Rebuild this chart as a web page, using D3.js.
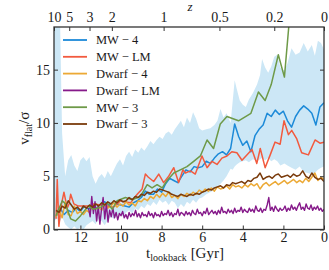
<!DOCTYPE html>
<html><head><meta charset="utf-8">
<script src="https://cdn.jsdelivr.net/npm/d3@7"></script>
<style>
body{margin:0;background:#fff}
svg{display:block}
text{font-family:"Liberation Serif","DejaVu Serif",serif;fill:#1a1a1a}
</style>
</head><body><svg id="c" width="329" height="270"></svg>
<script>
// ---------- data ----------
const xTicks = [12, 10, 8, 6, 4, 2, 0];
const yTicks = [0, 5, 10, 15];
const zTickLabels = ["10", "5", "3", "2", "1", "0.5", "0.2", "0"];
const zTickLookback = [13.3, 12.55, 11.55, 10.45, 7.9, 5.15, 2.45, 0];

const seriesNames = ["MW \u2212 4", "MW \u2212 LM", "Dwarf \u2212 4", "Dwarf \u2212 LM", "MW \u2212 3", "Dwarf \u2212 3"];
const seriesColors = ["#1c8ad8", "#f25a3e", "#eca935", "#861a8a", "#6e9a48", "#7a3b0c"];

// MW-4
const mw4T = [13.2,13.0,12.8,12.6,12.4,12.2,12.0,11.8,11.6,11.4,11.2,11.0,10.8,10.6,10.4,10.2,10.0,9.8,9.6,9.4,9.2,9.0,8.8,8.6,8.4,8.2,8.0,7.8,7.6,7.4,7.2,7.0,6.8,6.6,6.4,6.2,6.0,5.8,5.6,5.4,5.2,5.0,4.8,4.6,4.4,4.2,4.0,3.8,3.6,3.4,3.2,3.0,2.8,2.6,2.4,2.2,2.0,1.8,1.6,1.4,1.2,1.0,0.8,0.6,0.4,0.2,0.0];
const mw4V = [1.2,2.0,1.4,1.8,1.6,2.0,1.7,2.2,1.9,2.3,2.0,2.4,2.6,2.3,2.5,2.4,2.3,2.2,2.1,2.5,2.7,3.0,3.6,3.3,3.3,3.8,3.5,4.3,4.8,4.6,4.4,5.0,5.6,5.4,5.9,5.8,5.9,6.4,6.2,6.7,7.1,7.3,7.0,7.6,9.9,8.7,7.9,8.3,7.3,8.8,9.4,9.8,10.9,10.6,11.2,10.8,11.1,10.2,9.6,10.6,11.2,11.6,11.3,10.9,9.8,11.5,11.9];

// MW-LM
const mwlmT = [13.2,13.14,13.06,12.95,12.81,12.65,12.56,12.48,12.32,12.1,11.8,11.5,11.34,11.0,10.68,10.37,10.02,9.86,9.53,9.2,8.96,8.8,8.65,8.39,8.14,7.9,7.65,7.4,7.16,6.95,6.83,6.58,6.34,6.01,5.76,5.52,5.27,5.03,4.78,4.54,4.29,4.04,3.8,3.55,3.31,3.14,2.9,2.65,2.41,2.16,1.97,1.75,1.59,1.34,1.1,0.77,0.44,0.2,0.0];
const mwlmV = [1.0,4.7,0.3,2.2,3.5,2.0,2.4,3.3,2.4,2.2,2.2,2.2,2.4,2.3,2.2,2.1,2.7,2.6,2.5,3.3,3.8,5.2,4.9,4.5,5.2,4.4,5.0,5.8,4.4,5.6,5.3,5.5,5.2,6.9,5.8,6.4,6.1,6.7,6.9,7.3,7.2,6.5,7.0,7.5,6.2,7.6,5.8,7.0,8.2,8.0,10.2,8.9,9.3,8.5,7.2,7.0,8.4,8.1,8.2];

// MW-3
const mw3T = [13.2,13.14,12.89,12.73,12.48,12.24,11.99,11.74,11.6,11.35,11.0,10.68,10.43,10.19,9.78,9.43,9.04,8.71,8.47,8.22,7.97,7.73,7.4,7.08,6.75,6.42,6.09,5.76,5.44,5.11,4.78,4.21,3.6,3.23,2.9,2.6,2.25,1.95,1.6,1.2,0.8,0.4,0.0];
const mw3V = [1.3,1.6,2.7,2.4,1.0,0.8,1.3,1.9,2.2,1.9,2.1,2.5,1.9,2.7,3.0,2.8,3.1,4.2,3.9,4.2,3.9,4.6,5.3,5.6,5.9,6.4,6.9,8.4,7.6,9.9,10.6,10.2,10.9,12.9,12.1,13.6,16.4,14.3,22,25,26,27,28];

// Dwarf-4 and Dwarf-3: sampled every 0.15 Gyr from 13.2 Gyr to 0
const dwarfStart = 13.2, dwarfEnd = 0;
const dwarf4V = [1.2,1.9,1.1,2.6,1.4,1.3,2.2,1.5,1.7,1.4,
  1.8,1.6,2.3,1.9,2.1,1.8,2.4,2.0,2.2,2.5,
  2.1,2.4,2.2,2.6,2.3,2.5,2.2,2.7,2.6,2.9,
  2.7,3.1,2.9,3.3,3.0,3.4,3.1,3.5,3.0,3.2,
  2.9,3.3,3.1,3.4,3.2,3.5,3.3,3.7,3.5,3.8,
  3.6,3.9,3.6,4.0,3.8,3.9,4.1,3.8,4.2,4.0,
  4.1,3.9,4.2,4.0,4.3,4.1,4.3,3.8,4.2,4.4,
  4.1,4.3,4.5,4.2,4.4,4.6,4.3,4.5,4.7,4.4,
  4.6,4.4,4.8,4.5,4.9,5.3,4.6,4.9,4.7];
const dwarf3V = [1.8,1.6,2.2,2.0,2.7,2.3,1.9,2.1,1.8,2.2,
  2.0,2.3,2.1,2.4,2.2,2.5,2.3,2.6,2.4,2.7,
  2.5,2.8,2.6,2.7,3.0,2.8,3.1,3.0,3.3,3.2,
  3.5,3.4,3.6,3.5,3.8,3.7,3.6,3.5,3.3,3.2,
  3.1,3.3,3.2,3.1,3.3,3.2,3.4,3.3,3.5,3.6,
  3.8,3.7,3.9,4.0,4.1,3.9,4.2,4.1,4.4,4.3,
  4.4,4.5,4.3,4.6,4.5,4.8,4.9,5.3,4.7,4.9,
  5.0,4.8,5.1,5.2,4.9,5.0,5.1,4.9,5.2,5.0,
  5.1,5.5,5.0,4.8,5.3,4.9,4.7,4.8,4.5];

// Dwarf-LM: sampled from 11.6 Gyr to 0
const dwarfLMStart = 11.6, dwarfLMEnd = 0;
const dwarfLMV = [2.0,1.2,3.1,1.5,2.6,0.8,2.2,0.5,1.9,3.0,
  1.0,2.4,0.7,1.8,1.2,2.0,1.1,1.6,0.9,1.5,
  1.3,1.7,1.1,1.4,1.0,1.6,1.2,1.5,1.3,1.8,
  1.2,1.5,1.1,1.6,1.3,1.4,1.2,1.7,1.3,1.5,
  1.1,1.6,1.3,1.4,1.2,1.7,1.3,1.5,1.4,1.8,
  1.3,1.6,1.2,1.5,1.4,1.9,1.3,1.6,1.5,1.3,
  1.7,1.4,1.6,1.3,1.8,1.5,1.4,1.9,1.5,1.6,
  1.3,1.7,1.5,2.0,1.4,1.6,1.8,1.5,1.7,1.4,
  1.8,1.5,2.1,1.6,1.7,1.5,1.9,1.6,1.8,1.5,
  2.0,1.6,1.8,1.7,2.1,1.6,1.9,1.7,1.6,2.0,
  1.7,1.9,1.6,2.2,1.8,1.7,2.0,1.6,1.9,1.8,
  2.3,3.0,1.8,2.1,1.7,2.2,1.9,1.7,2.0,1.8,
  1.9,2.2,1.7,2.0,1.8,2.3,1.9,2.1,1.8,2.2,
  2.5,1.9,2.1,1.8,2.4,2.0,1.9,2.3,1.8,2.1,
  1.9,2.2,1.8,2.0,1.7,1.9];

// shaded band
const bandT  = [13.3,13.15,13.0,12.9,12.75,12.6,12.45,12.3,12.15,12.0,11.85,11.7,11.55,11.4,11.25,11.1,10.95,10.8,10.65,10.5,10.35,10.2,10.05,9.9,9.75,9.6,9.45,9.3,9.15,9.0,8.85,8.7,8.55,8.4,8.25,8.1,7.95,7.8,7.65,7.5,7.35,7.2,7.05,6.9,6.75,6.6,6.45,6.3,6.15,6.0,5.8,5.6,5.4,5.25,5.1,4.95,4.8,4.6,4.5,4.4,4.3,4.15,4.0,3.85,3.7,3.5,3.3,3.15,3.05,2.9,2.75,2.6,2.45,2.3,2.15,1.95,1.8,1.6,1.4,1.2,1.0,0.8,0.6,0.45,0.3,0.15,0.0];
const bandLo = [0.8,1.0,0.8,1.2,0.5,0.2,0.0,0.3,0.0,0.2,0.0,0.4,0.6,0.8,0.5,1.0,0.8,0.4,0.9,1.2,1.0,1.3,1.5,1.2,1.6,1.8,1.5,2.0,1.8,2.2,2.0,2.4,2.2,2.6,2.3,2.8,2.5,2.7,2.3,2.7,2.5,2.0,2.4,2.1,2.6,2.4,2.8,2.5,2.9,3.0,3.3,3.5,3.7,4.0,4.3,4.6,5.0,5.7,5.6,5.9,6.1,6.3,6.4,6.5,6.3,6.6,6.4,6.6,6.7,6.5,6.7,6.4,6.6,6.4,6.0,6.2,6.0,5.8,5.6,5.9,5.4,5.3,5.2,5.3,5.6,5.8,5.9];
const bandHi = [19.5,19.5,19.5,9.0,5.0,6.5,7.0,6.0,5.5,6.5,6.8,6.4,6.8,5.0,4.3,4.9,5.2,4.8,5.5,5.0,5.6,6.2,6.6,6.0,6.9,7.3,6.8,7.5,7.2,7.7,7.4,7.8,8.3,8.0,8.4,8.7,8.5,9.0,9.2,8.9,9.4,9.8,10.2,9.6,10.5,10.0,11.0,10.4,9.5,9.3,9.4,9.5,9.8,10.2,11.3,10.5,10.9,10.0,12.0,14.0,13.2,12.1,11.7,11.5,12.2,12.8,13.6,14.5,16.0,15.2,14.7,15.3,16.2,16.4,15.2,14.9,15.6,17.0,16.4,16.6,17.5,16.7,17.3,16.3,17.7,17.5,16.9];

// ---------- layout ----------
const L = 54, R = 324, T = 27, B = 229.5;
const svg = d3.select("#c");
const x = d3.scaleLinear().domain([13.3, 0]).range([L, R]);
const y = d3.scaleLinear().domain([0, 19]).range([B, T]);

svg.append("defs").append("clipPath").attr("id", "clip")
  .append("rect").attr("x", L).attr("y", T).attr("width", R - L).attr("height", B - T);

const plot = svg.append("g").attr("clip-path", "url(#clip)");

// band
const band = bandT.map((t, i) => ({t, lo: bandLo[i], hi: bandHi[i]}));
plot.append("path").datum(band)
  .attr("fill", "#cce7f6")
  .attr("d", d3.area().x(d => x(d.t)).y0(d => y(d.lo)).y1(d => y(d.hi)));

function grid(start, end, n) {
  return d3.range(n).map(i => start + (end - start) * i / (n - 1));
}
const dwarfT = grid(dwarfStart, dwarfEnd, dwarf4V.length);
const dwarfLMT = grid(dwarfLMStart, dwarfLMEnd, dwarfLMV.length);

const series = [
  {T: mw4T, V: mw4V, w: 1.5},
  {T: mwlmT, V: mwlmV, w: 1.5},
  {T: dwarfT, V: dwarf4V, w: 1.5},
  {T: dwarfLMT, V: dwarfLMV, w: 1.4},
  {T: mw3T, V: mw3V, w: 1.5},
  {T: dwarfT, V: dwarf3V, w: 1.5}
];
const line = d3.line().x(d => x(d[0])).y(d => y(d[1]));
series.forEach((s, k) => {
  plot.append("path").datum(s.T.map((t, i) => [t, s.V[i]]))
    .attr("fill", "none").attr("stroke", seriesColors[k])
    .attr("stroke-width", s.w).attr("stroke-linejoin", "round")
    .attr("d", line);
});

// ---------- axes ----------
const fs = 14;
const axColor = "#333";
const gB = svg.append("g").attr("transform", `translate(0,${B})`)
  .call(d3.axisBottom(x).tickValues(xTicks).tickFormat(d3.format("d")).tickSizeInner(-4).tickSizeOuter(0).tickPadding(3));
const gL = svg.append("g").attr("transform", `translate(${L},0)`)
  .call(d3.axisLeft(y).tickValues(yTicks).tickFormat(d3.format("d")).tickSizeInner(-4).tickSizeOuter(0).tickPadding(4));
const gR = svg.append("g").attr("transform", `translate(${R},0)`)
  .call(d3.axisRight(y).tickValues(yTicks).tickFormat("").tickSizeInner(-4).tickSizeOuter(0));
const zScale = d3.scaleOrdinal().domain(zTickLabels).range(zTickLookback.map(t => x(t)));
const gT = svg.append("g").attr("transform", `translate(0,${T})`)
  .call(d3.axisTop(zScale).tickSizeInner(-4).tickSizeOuter(0).tickPadding(5));

[gB, gL, gR, gT].forEach(g => {
  g.select(".domain").remove();
  g.selectAll(".tick line").attr("stroke", axColor).attr("stroke-width", 1);
  g.selectAll(".tick text").attr("font-size", fs).attr("font-family", '"Liberation Serif", serif').attr("fill", "#1a1a1a");
});

svg.append("rect").attr("x", L).attr("y", T).attr("width", R - L).attr("height", B - T)
  .attr("fill", "none").attr("stroke", axColor).attr("stroke-width", 1.3);

// axis titles
svg.append("text").attr("x", 190).attr("y", 10.5).attr("text-anchor", "middle")
  .attr("font-size", 13).attr("font-style", "italic").text("z");

const xl = svg.append("text").attr("x", 185).attr("y", 258).attr("text-anchor", "middle").attr("font-size", 15);
xl.append("tspan").text("t");
xl.append("tspan").attr("font-size", 10).attr("dy", 3).text("lookback");
xl.append("tspan").attr("dy", -3).text(" [Gyr]");

const yl = svg.append("text").attr("transform", `translate(29,${(T + B) / 2}) rotate(-90)`)
  .attr("text-anchor", "middle").attr("font-size", 15);
yl.append("tspan").text("v");
yl.append("tspan").attr("font-size", 10).attr("dy", 3).text("flat");
yl.append("tspan").attr("dy", -3).text("/\u03c3");

// legend
const lg = svg.append("g");
seriesNames.forEach((n, i) => {
  const yy = 40 + i * 16.8;
  lg.append("line").attr("x1", 63).attr("x2", 87).attr("y1", yy).attr("y2", yy)
    .attr("stroke", seriesColors[i]).attr("stroke-width", 1.8);
  lg.append("text").attr("x", 96).attr("y", yy + 4.3).attr("font-size", 12.5).text(n);
});
</script>
</body></html>
